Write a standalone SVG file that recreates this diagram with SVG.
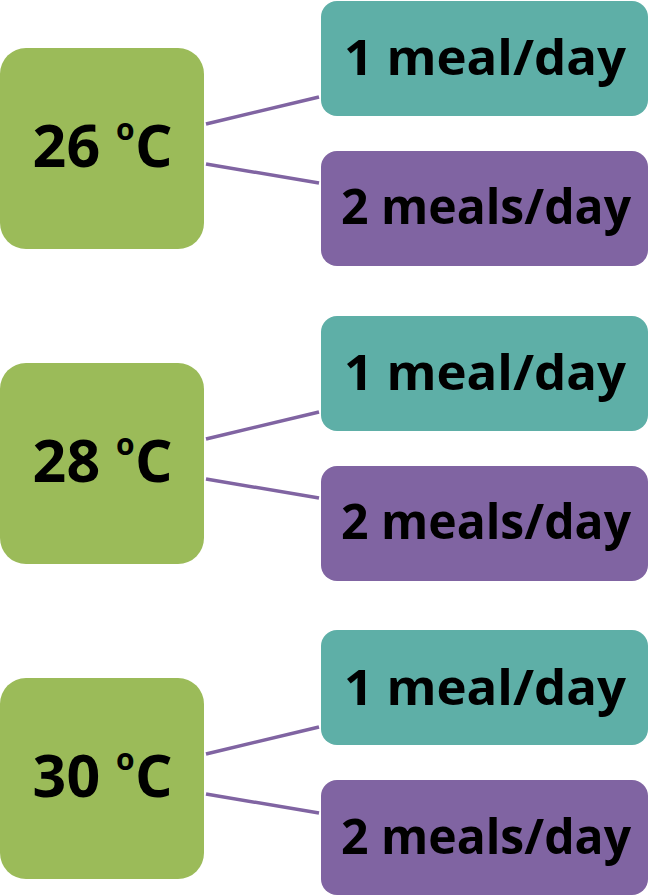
<svg xmlns="http://www.w3.org/2000/svg" width="650" height="896" viewBox="0 0 650 896">
<style>
.temp{fill:#9BBB59}
.one{fill:#5EAFA7}
.two{fill:#8064A2}
.lbl{font-family:"Open Sans","Liberation Sans",sans-serif;font-weight:700;fill:#000;text-anchor:middle}
.big{font-size:59px}
.sm{font-size:48px}
.sup{font-size:30px}
.conn line{stroke:#8064A2;stroke-width:3.5}
</style>
<rect width="650" height="896" fill="#fff"/>
<g class="conn">
<line x1="206" y1="124" x2="319" y2="97"/>
<line x1="206" y1="164" x2="319" y2="183"/>
<line x1="206" y1="439" x2="319" y2="412"/>
<line x1="206" y1="479" x2="319" y2="498"/>
<line x1="206" y1="754" x2="319" y2="727"/>
<line x1="206" y1="794" x2="319" y2="813"/>
</g>
<g id="t26">
<rect class="temp" x="0" y="48" width="204" height="201" rx="26"/>
<text class="lbl big" x="102.5" y="167" textLength="140" lengthAdjust="spacing">26 <tspan class="sup" dy="-27">o</tspan><tspan dy="27">C</tspan></text>
</g>
<g id="t26m1">
<rect class="one" x="321" y="1" width="327" height="115" rx="16"/>
<text class="lbl sm" x="485" y="75" textLength="282" lengthAdjust="spacingAndGlyphs">1 meal/day</text>
</g>
<g id="t26m2">
<rect class="two" x="321" y="151" width="327" height="115" rx="16"/>
<text class="lbl sm" x="486" y="224" textLength="290" lengthAdjust="spacingAndGlyphs">2 meals/day</text>
</g>
<g id="t28">
<rect class="temp" x="0" y="363" width="204" height="201" rx="26"/>
<text class="lbl big" x="102.5" y="482" textLength="140" lengthAdjust="spacing">28 <tspan class="sup" dy="-27">o</tspan><tspan dy="27">C</tspan></text>
</g>
<g id="t28m1">
<rect class="one" x="321" y="316" width="327" height="115" rx="16"/>
<text class="lbl sm" x="485" y="390" textLength="282" lengthAdjust="spacingAndGlyphs">1 meal/day</text>
</g>
<g id="t28m2">
<rect class="two" x="321" y="466" width="327" height="115" rx="16"/>
<text class="lbl sm" x="486" y="539" textLength="290" lengthAdjust="spacingAndGlyphs">2 meals/day</text>
</g>
<g id="t30">
<rect class="temp" x="0" y="678" width="204" height="201" rx="26"/>
<text class="lbl big" x="102.5" y="797" textLength="140" lengthAdjust="spacing">30 <tspan class="sup" dy="-27">o</tspan><tspan dy="27">C</tspan></text>
</g>
<g id="t30m1">
<rect class="one" x="321" y="630" width="327" height="115" rx="16"/>
<text class="lbl sm" x="485" y="705" textLength="282" lengthAdjust="spacingAndGlyphs">1 meal/day</text>
</g>
<g id="t30m2">
<rect class="two" x="321" y="780" width="327" height="115" rx="16"/>
<text class="lbl sm" x="486" y="854" textLength="290" lengthAdjust="spacingAndGlyphs">2 meals/day</text>
</g>
</svg>
